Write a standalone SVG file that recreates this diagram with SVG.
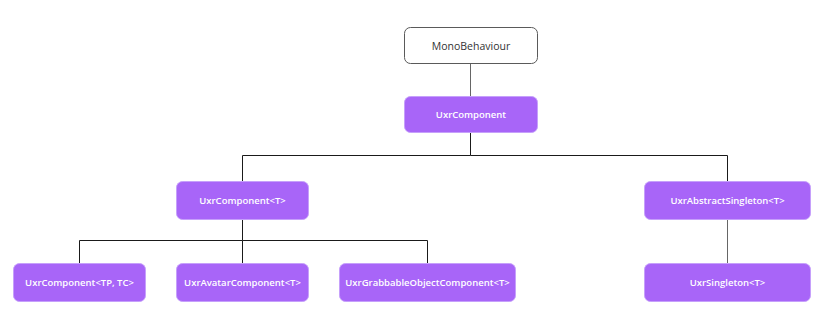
<svg xmlns="http://www.w3.org/2000/svg" width="827" height="329" viewBox="0 0 827 329">
  <style>
    .node { fill: #a865f8; stroke: #c6a0fb; stroke-width: 1; }
    .base { fill: #ffffff; stroke: #5a5a5a; stroke-width: 1; }
    .label { font-family: "Open Sans", "Noto Sans", sans-serif; font-size: 9.5px; font-weight: 600; fill: #ffffff; text-anchor: middle; dominant-baseline: central; }
    .base-label { font-family: "Open Sans", "Noto Sans", sans-serif; font-size: 10.5px; fill: #333333; text-anchor: middle; dominant-baseline: central; }
    .edge { fill: none; stroke: #1a1a1a; stroke-width: 1; }
    .edge-soft { fill: none; stroke: #666666; stroke-width: 1; }
  </style>
  <rect width="827" height="329" fill="#ffffff"/>

  <g id="connectors">
    <path class="edge-soft" d="M470.5 63 V96"/>
    <path class="edge" d="M470.5 132 V155.5 H242.5 V181"/>
    <path class="edge" d="M470.5 155.5 H727.5 V181"/>
    <path class="edge" d="M242.5 219 V240.5 H79.5 V263"/>
    <path class="edge" d="M242.5 240.5 V263"/>
    <path class="edge" d="M242.5 240.5 H427.5 V263"/>
    <path class="edge-soft" d="M727.5 219 V263"/>
  </g>

  <g id="MonoBehaviour">
    <rect class="base" x="404.5" y="27.5" width="133" height="36" rx="6"/>
    <text class="base-label" x="471" y="45.5">MonoBehaviour</text>
  </g>
  <g id="UxrComponent">
    <rect class="node" x="404.5" y="96.5" width="133" height="36" rx="6"/>
    <text class="label" x="471" y="114.5">UxrComponent</text>
  </g>
  <g id="UxrComponentT">
    <rect class="node" x="176.5" y="181.5" width="132" height="38" rx="6"/>
    <text class="label" x="242.5" y="200.5">UxrComponent&lt;T&gt;</text>
  </g>
  <g id="UxrAbstractSingletonT">
    <rect class="node" x="644.5" y="181.5" width="166" height="38" rx="6"/>
    <text class="label" x="727.5" y="200.5">UxrAbstractSingleton&lt;T&gt;</text>
  </g>
  <g id="UxrComponentTPTC">
    <rect class="node" x="13.5" y="263.5" width="132" height="38" rx="6"/>
    <text class="label" x="79.5" y="282.5">UxrComponent&lt;TP, TC&gt;</text>
  </g>
  <g id="UxrAvatarComponentT">
    <rect class="node" x="176.5" y="263.5" width="132" height="38" rx="6"/>
    <text class="label" x="242.5" y="282.5">UxrAvatarComponent&lt;T&gt;</text>
  </g>
  <g id="UxrGrabbableObjectComponentT">
    <rect class="node" x="339.5" y="263.5" width="176" height="38" rx="6"/>
    <text class="label" x="427.5" y="282.5">UxrGrabbableObjectComponent&lt;T&gt;</text>
  </g>
  <g id="UxrSingletonT">
    <rect class="node" x="644.5" y="263.5" width="166" height="38" rx="6"/>
    <text class="label" x="727.5" y="282.5">UxrSingleton&lt;T&gt;</text>
  </g>
</svg>
